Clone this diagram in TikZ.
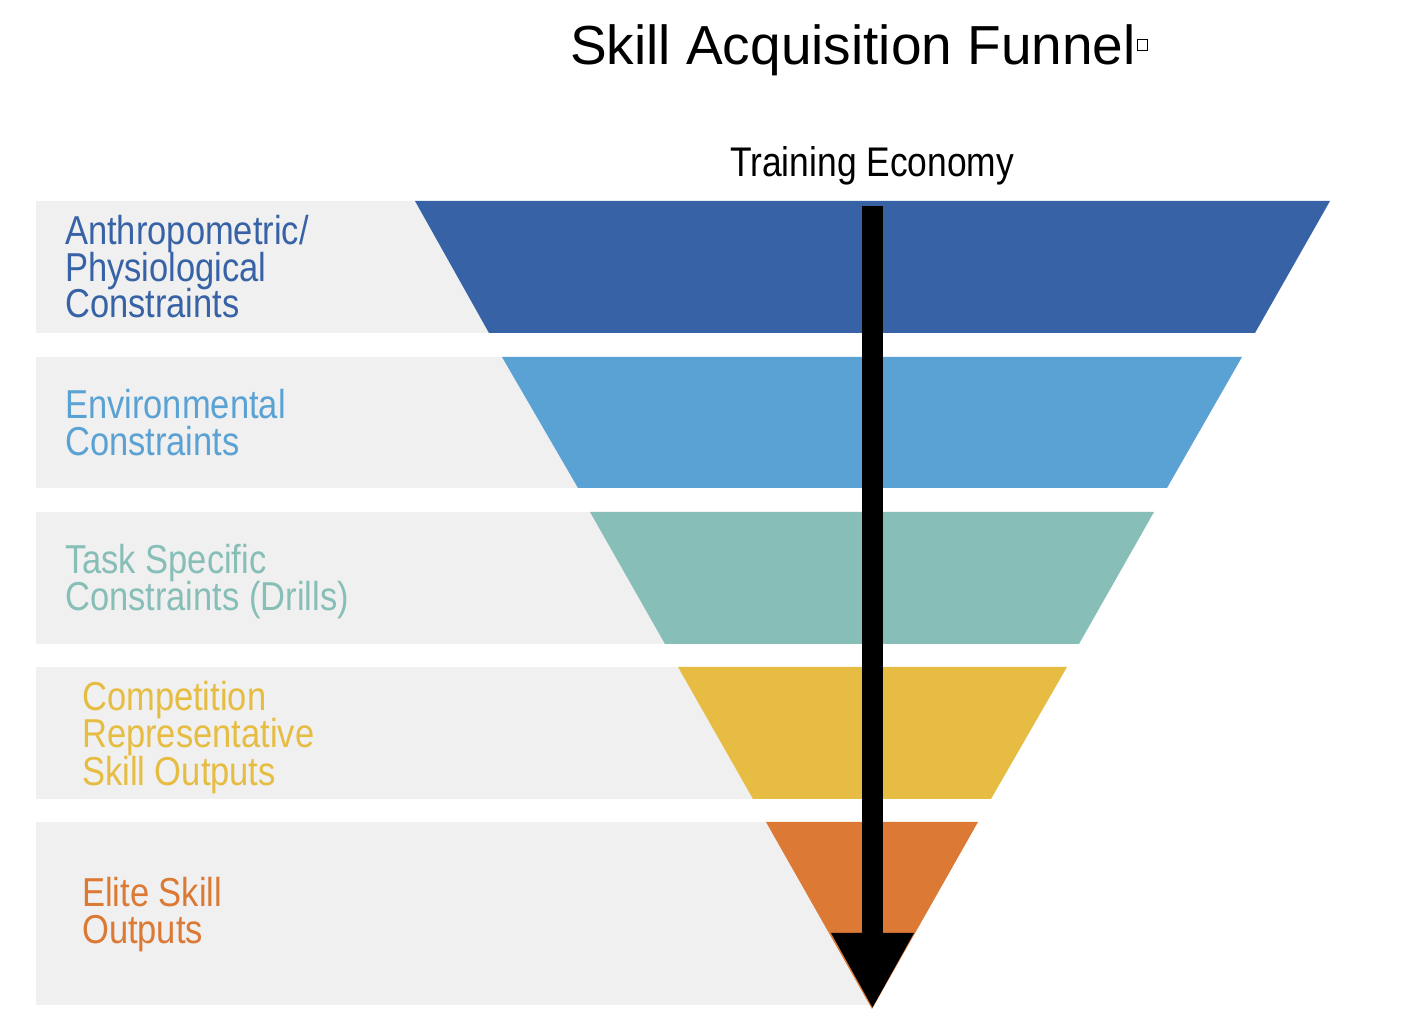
\documentclass[tikz,border=0pt]{standalone}
\usepackage{fontspec}
\setmainfont{Liberation Sans}
\usetikzlibrary{arrows.meta}
\definecolor{cblue}{HTML}{3763A6}
\definecolor{clblue}{HTML}{5BA2D4}
\definecolor{cteal}{HTML}{87BEB7}
\definecolor{cyellow}{HTML}{E6BD42}
\definecolor{corange}{HTML}{DB7935}
\definecolor{cgrey}{HTML}{F0F0F0}
\tikzset{
  greybar/.style={fill=cgrey, draw=none},
  lbl/.style={anchor=base west, inner sep=0pt, text depth=0pt, font=\fontsize{34.5}{34.5}\selectfont, yscale=1.17, transform shape},
  hdr/.style={anchor=base west, inner sep=0pt},
}
\begin{document}
\begin{tikzpicture}[x=1pt,y=1pt]
\useasboundingbox (0,0) rectangle (1406,1036);
\fill[white] (0,0) rectangle (1406,1036);
% grey bars
\fill[greybar] (36,703) rectangle (870,835);
\fill[greybar] (36,548) rectangle (870,679);
\fill[greybar] (36,392) rectangle (870,524);
\fill[greybar] (36,237) rectangle (870,369);
\fill[greybar] (36,31) rectangle (870,214);
% funnel bands
\fill[cblue] (415,835) -- (1330,835) -- (1255,703) -- (489,703) -- cycle;
\fill[clblue] (502,679) -- (1242,679) -- (1167,548) -- (578,548) -- cycle;
\fill[cteal] (590,524) -- (1154,524) -- (1079,392) -- (665,392) -- cycle;
\fill[cyellow] (678,369) -- (1067,369) -- (991,237) -- (753,237) -- cycle;
\fill[corange] (766,214) -- (978,214) -- (872,27) -- cycle;
% titles
\node[hdr, font=\fontsize{55}{55}\selectfont] (title) at (570,971) {Skill Acquisition Funnel};
\node[draw=black, line width=0.8pt, fill=white, minimum width=10pt, minimum height=11pt, inner sep=0pt, anchor=south west] (sq) at (1137,985) {};
\node[hdr, font=\fontsize{35.4}{35.4}\selectfont, yscale=1.17, transform shape] (econ) at (730,859) {Training Economy};
% labels
\node[lbl, text=cblue] (a1) at (65,791) {Anthropometric/};
\node[lbl, text=cblue] (a2) at (65,754) {Physiological};
\node[lbl, text=cblue] (a3) at (65,718) {Constraints};
\node[lbl, text=clblue] (b1) at (65,617) {Environmental};
\node[lbl, text=clblue] (b2) at (65,580) {Constraints};
\node[lbl, text=cteal] (c1) at (65,462) {Task Specific};
\node[lbl, text=cteal] (c2) at (65,425) {Constraints (Drills)};
\node[lbl, text=cyellow] (d1) at (82,325) {Competition};
\node[lbl, text=cyellow] (d2) at (82,288) {Representative};
\node[lbl, text=cyellow] (d3) at (82,250) {Skill Outputs};
\node[lbl, text=corange] (e1) at (82,129) {Elite Skill};
\node[lbl, text=corange] (e2) at (82,92) {Outputs};
% arrow
\coordinate (arrtop) at (872.5,830);
\coordinate (arrend) at (872.5,27);
\draw[line width=21pt, -{Triangle[width=77pt,length=76pt]}] (arrtop) -- (arrend);
\end{tikzpicture}
\end{document}
